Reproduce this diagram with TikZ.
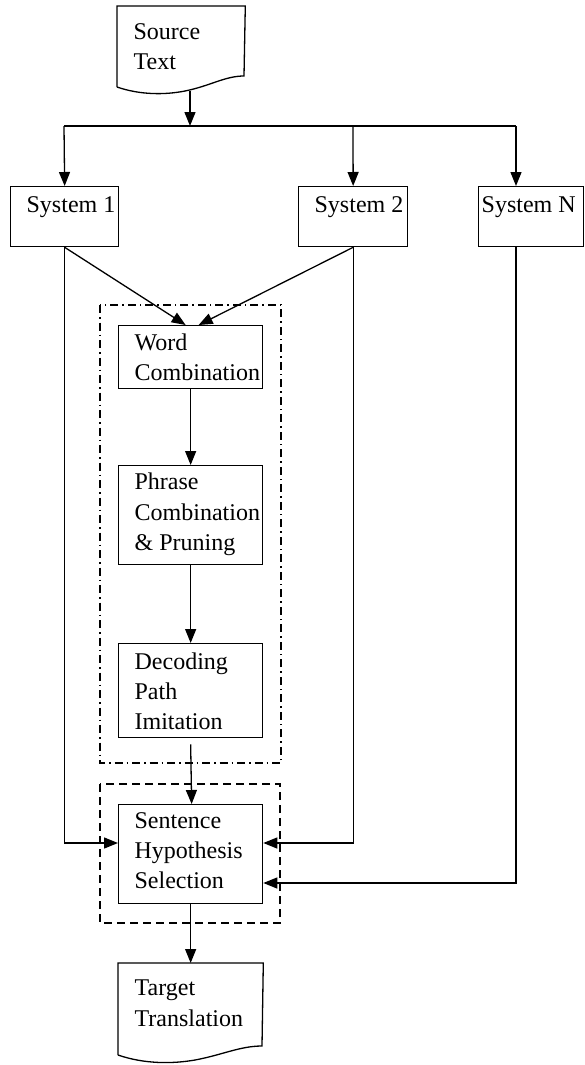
\documentclass[tikz,border=0pt]{standalone}
\usepackage{fontspec}
\setmainfont{Liberation Serif}
\usetikzlibrary{arrows.meta,calc}
\begin{document}
\begin{tikzpicture}[x=1pt,y=-1pt,line width=1.3pt,
  box/.style={draw,rectangle,inner sep=0pt,anchor=north west},
  frame/.style={rectangle,inner sep=0pt,anchor=north west},
  lbl/.style={anchor=base west,inner sep=0pt,font=\fontsize{24}{30}\selectfont},
  arr/.style={-{Triangle[length=14pt,width=11pt]}},
  dashdotbox/.style={dash pattern=on 8pt off 4pt on 1.5pt off 4pt},
  dashbox/.style={dash pattern=on 8pt off 5pt}]
\useasboundingbox (0,0) rectangle (584,1065);

% group frames
\draw[dashdotbox] (100,305) rectangle (281,763);
\draw[dashbox] (100,784) rectangle (280,923);

% source document
\node[frame,minimum width=127pt,minimum height=70pt] (src) at (117,6) {};
\draw (117,87) -- (src.north west) -- (src.north east) -- (244,76)
  .. controls (225,76) and (210,86) .. (185,91)
  .. controls (165,95) and (140,95) .. (117,87);
\coordinate (srcout) at (190,91);
\node[lbl] (src1) at (133,40) {Source};
\node[lbl] (src2) at (133,70) {Text};

% systems
\node[box,minimum width=108pt,minimum height=60pt] (s1) at (10,186) {};
\node[box,minimum width=109pt,minimum height=60pt] (s2) at (298,186) {};
\node[box,minimum width=105pt,minimum height=60pt] (sn) at (478,186) {};
\node[lbl] (s1t) at (26,212) {System 1};
\node[lbl] (s2t) at (314,212) {System 2};
\node[lbl] (snt) at (481,212) {System N};

% inner boxes
\node[box,minimum width=144pt,minimum height=63pt] (wc) at (118,325) {};
\node[lbl] (wc1) at (134,350) {Word};
\node[lbl] (wc2) at (134,380) {Combination};

\node[box,minimum width=144pt,minimum height=99pt] (pc) at (118,465) {};
\node[lbl] (pc1) at (134,489) {Phrase};
\node[lbl] (pc2) at (134,520) {Combination};
\node[lbl] (pc3) at (134,550) {\& Pruning};

\node[box,minimum width=144pt,minimum height=94pt] (dp) at (118,643) {};
\node[lbl] (dp1) at (134,669) {Decoding};
\node[lbl] (dp2) at (134,699) {Path};
\node[lbl] (dp3) at (134,729) {Imitation};

\node[box,minimum width=144pt,minimum height=99pt] (sh) at (118,804) {};
\node[lbl] (sh1) at (134,828) {Sentence};
\node[lbl] (sh2) at (134,858) {Hypothesis};
\node[lbl] (sh3) at (134,888) {Selection};

% target document
\node[frame,minimum width=144pt,minimum height=82pt] (tg) at (118,963) {};
\draw (118,1055) -- (tg.north west) -- (tg.north east) -- (262,1046)
  .. controls (240,1046) and (222,1055) .. (195,1060)
  .. controls (172,1064) and (144,1064) .. (118,1055);
\node[lbl] (tg1) at (134,995) {Target};
\node[lbl] (tg2) at (134,1026) {Translation};

% distribution
\coordinate (jc) at (190,126);
\coordinate (jl) at (64,126);
\coordinate (jm) at (353,126);
\coordinate (jr) at (516,126);
\draw[arr] (srcout) -- (jc);
\draw (jl) -- (jr);
\draw[arr] (jl) -- (s1.north);
\draw[arr] (jm) -- (s2.north);
\draw[arr] (jr) -- (jr |- sn.north);

% systems to word combination
\draw[arr] (s1.south) -- ($(wc.north)+(-5,0)$);
\draw[arr] (s2.south) -- ($(wc.north)+(8,0)$);

% pipeline
\draw[arr] (wc.south) -- (pc.north);
\draw[arr] (pc.south) -- (dp.north);
\draw[arr] ($(dp.south)+(0,6)$) -- ($(sh.north)+(1,0)$);
\draw[arr] (sh.south) -- (tg.north);

% bypass lines
\draw[arr] (s1.south) |- ($(sh.north west)+(0,39)$);
\draw[arr] (s2.south) |- ($(sh.north east)+(0,39)$);
\draw[arr] (jr |- sn.south) |- ($(sh.north east)+(0,79)$);
\end{tikzpicture}
\end{document}
